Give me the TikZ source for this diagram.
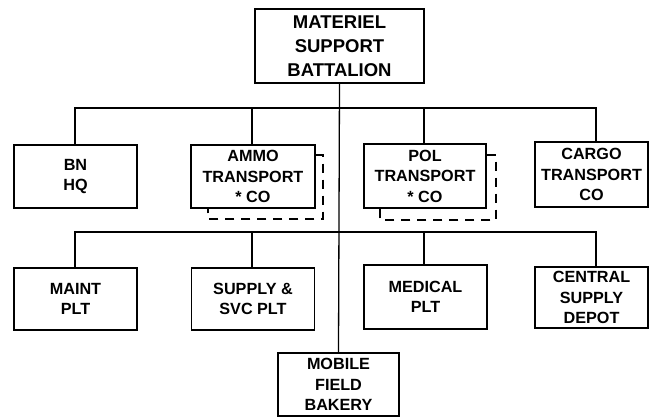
\documentclass[tikz,border=0pt]{standalone}
\usepackage{fontspec}
\setmainfont{Liberation Sans}
\begin{document}
\begin{tikzpicture}[x=1pt,y=-1pt,line width=1.3pt,
  unit/.style={draw,rectangle,inner sep=0pt,align=center,
    font=\fontsize{16.2}{20.5}\selectfont\bfseries},
  hq/.style={unit,font=\fontsize{18.5}{24}\selectfont\bfseries},
  attach/.style={line width=1.2pt,dash pattern=on 9pt off 7pt}]
\useasboundingbox (0,0) rectangle (649,417);
% nodes
\node[hq,minimum width=169,minimum height=74] (top) at (339.5,46) {MATERIEL\\SUPPORT\\BATTALION};
\node[unit,minimum width=123,minimum height=63] (bn) at (75.5,176.5) {BN\\HQ};
\node[unit,minimum width=124,minimum height=63] (ammo) at (253,176.5) {AMMO\\TRANSPORT\\* CO};
\node[unit,minimum width=122,minimum height=64] (pol) at (425,176) {POL\\TRANSPORT\\* CO};
\node[unit,minimum width=113,minimum height=65] (cargo) at (591.5,174.5) {CARGO\\TRANSPORT\\CO};
\node[unit,minimum width=123,minimum height=62] (maint) at (75.5,299) {MAINT\\PLT};
\node[unit,minimum width=123,minimum height=62] (supply) at (253,299) {SUPPLY \&\\SVC PLT};
\node[unit,minimum width=123,minimum height=64] (medical) at (425.5,297) {MEDICAL\\PLT};
\node[unit,minimum width=113,minimum height=61] (central) at (591.5,297.5) {CENTRAL\\SUPPLY\\DEPOT};
\node[unit,minimum width=121,minimum height=63] (bakery) at (338.5,384.5) {MOBILE\\FIELD\\BAKERY};
% bus coordinates
\coordinate (t1) at (75,108);
\coordinate (t2) at (252,108);
\coordinate (t3) at (424,108);
\coordinate (t4) at (596,108);
\coordinate (b1) at (75,232);
\coordinate (b2) at (252,232);
\coordinate (b3) at (424,232);
\coordinate (b4) at (596,232);
% trunk
\draw (top.south) -- (bakery.north);
% upper bus
\draw (t1 |- bn.north) -- (t1) -- (t4) -- (t4 |- cargo.north);
\draw (t2) -- (t2 |- ammo.north);
\draw (t3) -- (t3 |- pol.north);
% lower bus
\draw (b1 |- maint.north) -- (b1) -- (b4) -- (b4 |- central.north);
\draw (b2) -- (b2 |- supply.north);
\draw (b3) -- (b3 |- medical.north);
% dashed attachments
\coordinate (a1) at (323,155);
\coordinate (a2) at (323,219);
\coordinate (a3) at (208,219);
\draw[attach] (ammo.east |- a1) -- (a1) -- (a2) -- (a3) -- (a3 |- ammo.south);
\coordinate (p1) at (496,155);
\coordinate (p2) at (496,220);
\coordinate (p3) at (380,220);
\draw[attach] (pol.east |- p1) -- (p1) -- (p2) -- (p3) -- (p3 |- pol.south);
\end{tikzpicture}
\end{document}
